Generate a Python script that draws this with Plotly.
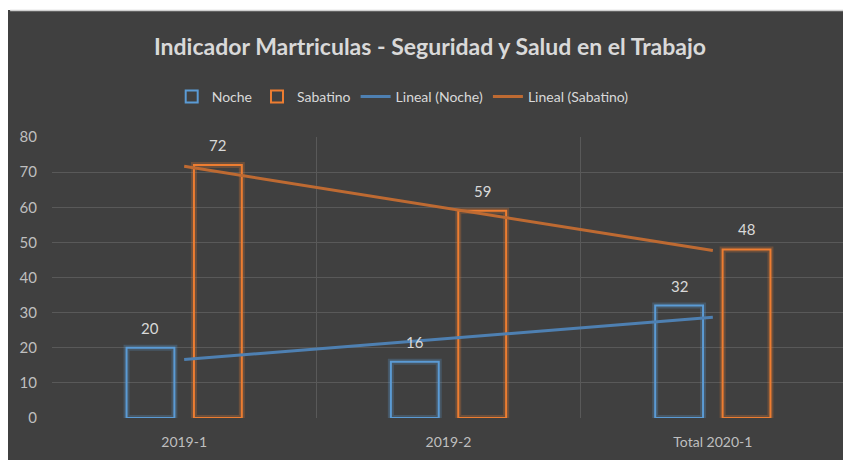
import numpy as np
import plotly.graph_objects as go

categories = ["2019-1", "2019-2", "Total 2020-1"]
noche = [20, 16, 32]
sabatino = [72, 59, 48]
y_ticks = [0, 10, 20, 30, 40, 50, 60, 70, 80]

W, H = 851, 460
OFF = 8  # page body margin: figure is drawn at (8, 8) on screen
# plot area in screen pixels: x 50..845, y 137..418
ML, MT = 50 - OFF, 137 - OFF
PW, PH = 795, 281
MR, MB = W - ML - PW, H - MT - PH

BG = "#404040"
BLUE = "#5B9BD5"
ORANGE = "#ED7D31"
BLUE_T = "#4E80B2"
ORANGE_T = "#BE6A32"
TXT = "#D9D9D9"
TICK = "#BFBFBF"
FONT = "Lato"

xi = np.arange(len(categories))
fit_n = np.polyval(np.polyfit(xi, noche, 1), xi)
fit_s = np.polyval(np.polyfit(xi, sabatino, 1), xi)

fig = go.Figure()
# glow layers
fig.add_trace(go.Bar(x=categories, y=noche, offsetgroup="n", showlegend=False,
                     marker=dict(color="rgba(0,0,0,0)", line=dict(color="rgba(91,155,213,0.25)", width=6)),
                     hoverinfo="skip"))
fig.add_trace(go.Bar(x=categories, y=sabatino, offsetgroup="s", showlegend=False,
                     marker=dict(color="rgba(0,0,0,0)", line=dict(color="rgba(237,125,49,0.25)", width=6)),
                     hoverinfo="skip"))
fig.add_trace(go.Bar(x=categories, y=noche, name="Noche", offsetgroup="n",
                     marker=dict(color="rgba(0,0,0,0)", line=dict(color=BLUE, width=2))))
fig.add_trace(go.Bar(x=categories, y=sabatino, name="Sabatino", offsetgroup="s",
                     marker=dict(color="rgba(0,0,0,0)", line=dict(color=ORANGE, width=2))))
fig.add_trace(go.Scatter(x=categories, y=fit_n, mode="lines", name="Lineal (Noche)",
                         line=dict(color=BLUE_T, width=3)))
fig.add_trace(go.Scatter(x=categories, y=fit_s, mode="lines", name="Lineal (Sabatino)",
                         line=dict(color=ORANGE_T, width=3)))

cat_px = PW / len(categories)
bargap = 0.49
slot = cat_px * (1 - bargap) / 2
annotations = []
for vals, sh in ((noche, -slot / 2), (sabatino, slot / 2)):
    for c, v in zip(categories, vals):
        annotations.append(dict(x=c, y=v, xref="x", yref="y", text=str(v), showarrow=False,
                                xshift=sh, yshift=20, yanchor="middle",
                                font=dict(family=FONT, size=15, color=TXT)))


def px_x(p):  # figure pixel -> paper x
    return (p - ML) / PW


def px_y(p):  # figure pixel -> paper y
    return (MT + PH - p) / PH


shapes = [
    dict(type="rect", xref="paper", yref="paper", layer="below",
         x0=px_x(-5), x1=px_x(W + 5), y0=px_y(-5), y1=px_y(2),
         fillcolor="white", line=dict(width=0)),
    dict(type="line", xref="paper", yref="paper", layer="below",
         x0=px_x(0), x1=px_x(W + 5), y0=px_y(2.5), y1=px_y(2.5),
         line=dict(color="#CFCFCF", width=1.5)),
]

fig.update_layout(
    width=W, height=H,
    margin=dict(l=ML, r=MR, t=MT, b=MB),
    paper_bgcolor=BG, plot_bgcolor=BG,
    barmode="group", bargap=bargap, bargroupgap=0.29,
    title=dict(text="<b>Indicador Martriculas - Seguridad y Salud en el Trabajo</b>",
               x=(430 - OFF) / W, xanchor="center", y=1 - (47 - OFF) / H, yanchor="middle",
               xref="container", yref="container",
               font=dict(family=FONT, size=23, color=TXT)),
    legend=dict(orientation="h", x=px_x(170 - OFF), xanchor="left", y=px_y(97 - OFF), yanchor="middle",
                font=dict(family=FONT, size=14, color=TXT), bgcolor="rgba(0,0,0,0)",
                traceorder="normal"),
    xaxis=dict(type="category", range=[-0.5, 2.5], tickson="boundaries", showgrid=True,
               gridcolor="#595959", gridwidth=1, ticks="", showline=False, zeroline=False,
               ticklabelstandoff=14,
               tickfont=dict(family=FONT, size=14, color=TICK)),
    yaxis=dict(range=[0, 80], tickvals=y_ticks, showgrid=True, gridcolor="#595959", gridwidth=1,
               zeroline=False, showline=False, ticks="", ticklabelstandoff=14,
               tickfont=dict(family=FONT, size=15, color=TICK)),
    annotations=annotations, shapes=shapes,
    showlegend=True,
)

fig.write_html("out.html")
